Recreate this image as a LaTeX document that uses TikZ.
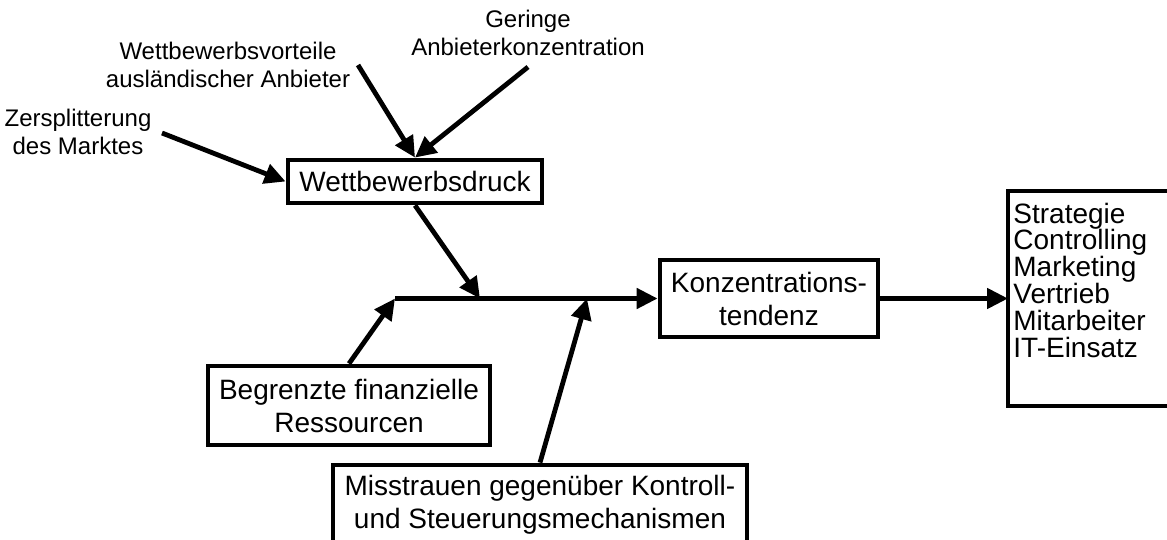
\documentclass[tikz,border=0pt]{standalone}
\usepackage{fontspec}
\setmainfont{Liberation Sans}
\usetikzlibrary{arrows.meta}
\begin{document}
\begin{tikzpicture}[x=0.5pt,y=-0.5pt,
  box/.style={draw, line width=2.4pt, inner sep=0pt, align=center, font=\fontsize{14}{16.5}\selectfont},
  lbl/.style={inner sep=0pt, align=center, font=\fontsize{12}{14}\selectfont},
  arr/.style={line width=2.4pt, -{Triangle[length=10.5pt,width=10pt]}}]
\useasboundingbox (0,0) rectangle (1167,540);
\clip (0,0) rectangle (1167,540);

% labels
\node[lbl] (G) at (528,32.5) {Geringe\\Anbieterkonzentration};
\node[lbl] (V) at (228,65) {Wettbewerbsvorteile\\ausländischer Anbieter};
\node[lbl] (Z) at (78,131.5) {Zersplitterung\\des Marktes};

% boxes
\node[box, minimum width=127pt, minimum height=21.5pt] (W) at (415,181.5) {Wettbewerbsdruck};
\node[box, minimum width=109pt, minimum height=38.5pt] (K) at (769,298.5) {Konzentrations-\\tendenz};
\node[box, minimum width=141pt, minimum height=39.5pt] (B) at (349,405.5) {Begrenzte finanzielle\\Ressourcen};
\node[box, minimum width=207pt, minimum height=39.5pt] (M) at (540,504.5) {Misstrauen gegenüber Kontroll-\\und Steuerungsmechanismen};
% right box: runs past the right edge of the picture
\node[inner sep=0pt, outer sep=0pt, minimum width=200pt, minimum height=107.5pt] (R) at (1208,298.5) {};
\draw[line width=2.4pt] (R.north east) -- (R.north west) -- (R.south west) -- (R.south east);
\node[inner sep=0pt, align=left, anchor=north west, font=\fontsize{14}{13.4}\selectfont] (RT) at (1013,202.5)
  {Strategie\\Controlling\\Marketing\\Vertrieb\\Mitarbeiter\\IT-Einsatz};

% connector points
\coordinate (zs) at (162,133);
\coordinate (ws) at (358,65);
\coordinate (gs) at (528,67);
\coordinate (j1) at (480,298.5);
\coordinate (l0) at (395,298.5);
\coordinate (j2) at (587,298.5);

% connectors
\draw[arr] (zs) -- (W.west);
\draw[arr] (ws) -- (W.north);
\draw[arr] (gs) -- (W.north);
\draw[arr] (W.south) -- (j1);
\draw[arr] (l0) -- (K.west);
\draw[arr] (B.north) -- (l0);
\draw[arr] (M.north) -- (j2);
\draw[arr] (K.east) -- (R.west);
\end{tikzpicture}
\end{document}
